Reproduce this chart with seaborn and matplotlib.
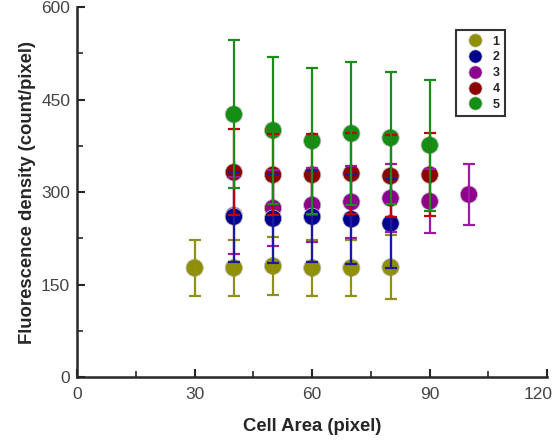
import numpy as np
import pandas as pd
import matplotlib
matplotlib.use("Agg")
import matplotlib.pyplot as plt
import matplotlib.transforms as mtrans
from matplotlib.ticker import MultipleLocator
from matplotlib.lines import Line2D
import seaborn as sns

# ---- data ----
x1 = [30, 40, 50, 60, 70, 80]
y1 = [177, 177, 180, 177, 177, 178]
e1 = [46, 46, 47, 46, 45, 52]

x2 = [40, 50, 60, 70, 80]
y2 = [260, 257, 260, 256, 249]
e2 = [73, 72, 74, 72, 72]

x3 = [40, 50, 60, 70, 80, 90, 100]
y3 = [262, 274, 279, 284, 290, 285, 296]
e3 = [62, 62, 60, 58, 55, 52, 50]

x4 = [40, 50, 60, 70, 80, 90]
y4 = [332, 328, 328, 330, 326, 328]
e4 = [70, 66, 66, 66, 66, 67]

x5 = [40, 50, 60, 70, 80, 90]
y5 = [426, 400, 383, 395, 388, 376]
e5 = [120, 119, 119, 116, 107, 106]

labels = ["1", "2", "3", "4", "5"]
x_ticks = [0, 30, 60, 90, 120]
y_ticks = [0, 150, 300, 450, 600]

colors = ["#8f8f00", "#00008f", "#8f008f", "#8f0000", "#138f13"]
err_colors = ["#8f8f1a", "#1a1aa0", "#a01aa0", "#c00000", "#1a8c1a"]

series = dict(zip(labels, [(x1, y1, e1), (x2, y2, e2), (x3, y3, e3), (x4, y4, e4), (x5, y5, e5)]))
draw_order = ["1", "3", "2", "4", "5"]
frames = []
for lab in draw_order:
    xs, ys, es = series[lab]
    frames.append(pd.DataFrame({"area": xs, "dens": ys, "err": es, "group": lab}))
df = pd.concat(frames, ignore_index=True)

sns.set_style("ticks")
plt.rcParams["font.family"] = ["Liberation Sans", "DejaVu Sans"]

fig, ax = plt.subplots(figsize=(5.55, 4.43), dpi=100)
fig.subplots_adjust(left=0.139, right=0.986, top=0.984, bottom=0.149)

sns.scatterplot(data=df, x="area", y="dens", hue="group", palette=dict(zip(labels, colors)),
                s=155, edgecolor="#c0c0c0", linewidth=0.6, ax=ax, legend=False, zorder=2)

for lab in draw_order:
    c = err_colors[labels.index(lab)]
    d = df[df["group"] == lab]
    ax.errorbar(d["area"], d["dens"], yerr=d["err"], fmt="none", ecolor=c,
                elinewidth=1.6, capsize=4.5, capthick=1.6, zorder=3)

ax.set_xlim(0, 120)
ax.set_ylim(0, 600)
ax.set_xticks(x_ticks)
ax.set_yticks(y_ticks)
ax.xaxis.set_minor_locator(MultipleLocator(15))
ax.yaxis.set_minor_locator(MultipleLocator(75))
ax.tick_params(axis="both", which="major", direction="in", length=6, width=1.5,
               labelsize=12.5, labelcolor="#444444")
ax.tick_params(axis="x", which="major", pad=7)
ax.tick_params(axis="y", which="major", pad=5)
ax.tick_params(axis="both", which="minor", direction="in", length=4, width=1.2)
for s in ["top", "right"]:
    ax.spines[s].set_visible(False)
for s in ["left", "bottom"]:
    ax.spines[s].set_linewidth(1.8)

ax.set_xlabel("Cell Area (pixel)", fontsize=13.3, fontweight="bold", labelpad=12)
ax.set_ylabel("Fluorescence density (count/pixel)", fontsize=13.3, fontweight="bold", labelpad=4)

last = ax.xaxis.get_major_ticks()[-1].label1
last.set_transform(last.get_transform() + mtrans.ScaledTranslation(-9 / 100, 0, fig.dpi_scale_trans))

handles = [Line2D([], [], marker="o", linestyle="none", markersize=9.5, markerfacecolor=c,
                  markeredgecolor="#c0c0c0", markeredgewidth=0.5) for c in colors]
leg = ax.legend(handles, labels, loc="upper right", bbox_to_anchor=(0.911, 0.938),
                frameon=True, fancybox=False, edgecolor="black", handlelength=2.2,
                handletextpad=0.3, labelspacing=0.3, borderpad=0.45, borderaxespad=0,
                prop={"weight": "bold", "size": 9})
leg.get_frame().set_linewidth(1.5)

fig.savefig("out.png", dpi=100)
